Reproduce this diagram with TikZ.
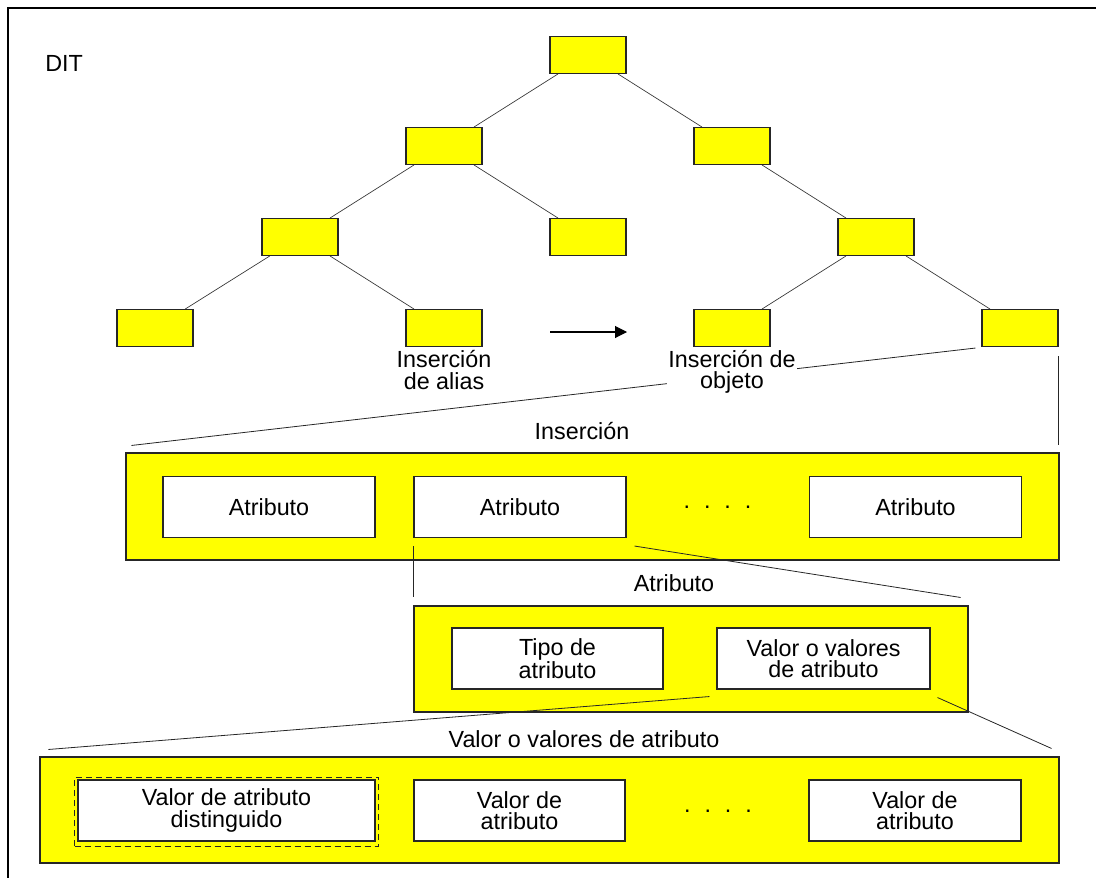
\documentclass[tikz,border=0pt]{standalone}
\usepackage{fontspec}
\setmainfont{Liberation Sans}
\usetikzlibrary{positioning,calc,arrows.meta}

\definecolor{amarillo}{RGB}{255,255,0}

\tikzset{
	nodo/.style={draw=black!85, fill=amarillo, line width=0.8pt, minimum width=57pt, minimum height=27.75pt, inner sep=0pt},
	bloque/.style={draw=black!85, fill=amarillo, line width=0.8pt, inner sep=0pt},
	campo/.style={draw=black!85, fill=white, line width=0.8pt, minimum width=159pt, minimum height=45.75pt, inner sep=0pt, align=center},
	rotulo/.style={fill=white, inner sep=1pt, align=center},
	rama/.style={draw=black!80, line width=0.5pt},
	proyeccion/.style={draw=black!85, line width=0.6pt},
	puntos/.style={inner sep=0pt}
}

\begin{document}
\begin{tikzpicture}[x=0.75pt,y=-0.75pt,font=\fontsize{17.5}{16}\selectfont]
	\useasboundingbox (0,0) rectangle (1096,878);
	% marco
	\draw[line width=1.2pt] (1096,8) -- (8,8) -- (8,878);
	\node[anchor=west, inner sep=0pt] (dit) at (45,63) {DIT};

	% arbol DIT
	\node[nodo] (raiz) at (588,55) {};
	\node[nodo] (a1) at (444,146) {};
	\node[nodo] (a2) at (732,146) {};
	\node[nodo] (b1) at (300,237) {};
	\node[nodo] (b2) at (588,237) {};
	\node[nodo] (b3) at (876,237) {};
	\node[nodo] (c1) at (155,328) {};
	\node[nodo] (c2) at (444,328) {};
	\node[nodo] (c3) at (732,328) {};
	\node[nodo] (c4) at (1020,328) {};
	\draw[rama] (raiz) -- (a1);
	\draw[rama] (raiz) -- (a2);
	\draw[rama] (a1) -- (b1);
	\draw[rama] (a1) -- (b2);
	\draw[rama] (a2) -- (b3);
	\draw[rama] (b1) -- (c1);
	\draw[rama] (b1) -- (c2);
	\draw[rama] (b3) -- (c3);
	\draw[rama] (b3) -- (c4);

	\coordinate (flechaA) at (550,332);
	\coordinate (flechaB) at (627,332);
	\draw[line width=0.8pt, -{Triangle[length=9pt,width=9pt]}] (flechaA) -- (flechaB);
	\node[rotulo] (alias) at (444,370) {Inserción\\de alias};

	% insercion
	\node[bloque, minimum width=699.75pt, minimum height=80.25pt] (ins) at (592.5,506.5) {};
	\node[campo] (at1) at (269,507) {Atributo};
	\node[campo] (at2) at (520,507) {Atributo};
	\node[campo] (at3) at (915.5,507) {Atributo};
	\node[puntos] (p1) at (717.5,507) {.\hskip10.4pt.\hskip10.4pt.\hskip10.4pt.};

	% atributo
	\node[bloque, minimum width=415.5pt, minimum height=79.5pt] (atr) at (691,659) {};
	\node[campo, minimum width=158.25pt] (tipo) at (557.5,658.5) {Tipo de\\atributo};
	\node[campo, minimum width=159.75pt] (valores) at (823.5,658.5) {Valor o valores\\de atributo};

	% valores
	\node[bloque, minimum width=764.25pt, minimum height=79.5pt] (vals) at (549.5,810) {};
	\node[draw=black!85, dashed, dash pattern=on 4.5pt off 3pt, line width=0.6pt, minimum width=228pt, minimum height=51.75pt] (marca) at (226.5,811.5) {};
	\node[campo, minimum width=222.75pt] (v1) at (226.5,810.5) {Valor de atributo\\distinguido};
	\node[campo, minimum width=158.25pt] (v2) at (519.5,810.5) {Valor de\\atributo};
	\node[campo] (v3) at (915,810.5) {Valor de\\atributo};
	\node[puntos] (p2) at (718,811) {.\hskip10.4pt.\hskip10.4pt.\hskip10.4pt.};

	% proyecciones
	\draw[proyeccion] ($(c4.south west)+(-6,1)$) -- ($(ins.north west)+(6,-7)$);
	\draw[proyeccion] ($(c4.south east)+(0,9)$) -- ($(ins.north east)+(-1,-7)$);
	\draw[proyeccion] ($(at2.south west)+(0,8)$) -- ($(atr.north west)+(0,-8)$);
	\draw[proyeccion] ($(at2.south east)+(8,8)$) -- ($(atr.north east)+(-8,-8)$);
	\draw[proyeccion] ($(valores.south west)+(-7,7)$) -- ($(vals.north west)+(9,-7)$);
	\draw[proyeccion] ($(valores.south east)+(7,8)$) -- ($(vals.north east)+(-8,-8)$);

	\node[rotulo] (objeto) at (732,372) {Inserción de\\objeto};
	\node[rotulo] (lins) at (582,431) {Inserción};
	\node[rotulo] (latr) at (674,583) {Atributo};
	\node[rotulo] (lvals) at (584,739) {Valor o valores de atributo};
\end{tikzpicture}
\end{document}
